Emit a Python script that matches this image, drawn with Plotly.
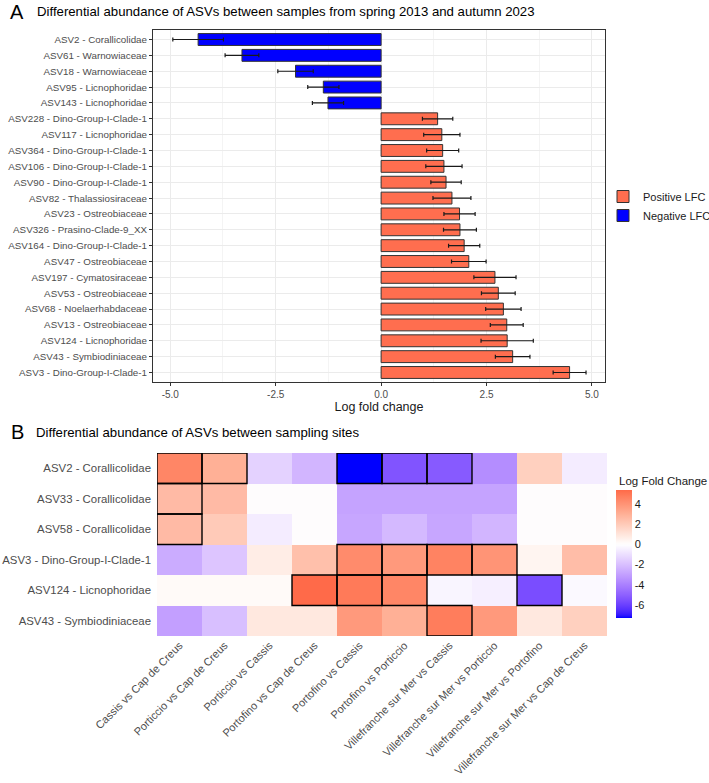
import plotly.graph_objects as go

# ---------------- Panel A data ----------------
asv_labels = [
    "ASV2 - Corallicolidae", "ASV61 - Warnowiaceae", "ASV18 - Warnowiaceae",
    "ASV95 - Licnophoridae", "ASV143 - Licnophoridae", "ASV228 - Dino-Group-I-Clade-1",
    "ASV117 - Licnophoridae", "ASV364 - Dino-Group-I-Clade-1", "ASV106 - Dino-Group-I-Clade-1",
    "ASV90 - Dino-Group-I-Clade-1", "ASV82 - Thalassiosiraceae", "ASV23 - Ostreobiaceae",
    "ASV326 - Prasino-Clade-9_XX", "ASV164 - Dino-Group-I-Clade-1", "ASV47 - Ostreobiaceae",
    "ASV197 - Cymatosiraceae", "ASV53 - Ostreobiaceae", "ASV68 - Noelaerhabdaceae",
    "ASV13 - Ostreobiaceae", "ASV124 - Licnophoridae", "ASV43 - Symbiodiniaceae",
    "ASV3 - Dino-Group-I-Clade-1",
]
lfc = [-4.34, -3.30, -2.03, -1.37, -1.26, 1.34, 1.44, 1.46, 1.49, 1.54, 1.68,
       1.86, 1.87, 1.97, 2.08, 2.70, 2.78, 2.90, 2.98, 2.99, 3.12, 4.47]
lfc_se = [0.60, 0.40, 0.42, 0.37, 0.37, 0.36, 0.43, 0.38, 0.43, 0.36, 0.45,
          0.37, 0.39, 0.37, 0.41, 0.50, 0.40, 0.42, 0.39, 0.62, 0.41, 0.39]
x_ticks = [-5.0, -2.5, 0.0, 2.5, 5.0]
x_ticktext = ["-5.0", "-2.5", "0.0", "2.5", "5.0"]

# ---------------- Panel B data ----------------
site_pairs = [
    "Cassis vs Cap de Creus", "Porticcio vs Cap de Creus", "Porticcio vs Cassis",
    "Portofino vs Cap de Creus", "Portofino vs Cassis", "Portofino vs Porticcio",
    "Villefranche sur Mer vs Cassis", "Villefranche sur Mer vs Porticcio",
    "Villefranche sur Mer vs Portofino", "Villefranche sur Mer vs Cap de Creus",
]
heat_rows = ["ASV2 - Corallicolidae", "ASV33 - Corallicolidae", "ASV58 - Corallicolidae",
             "ASV3 - Dino-Group-I-Clade-1", "ASV124 - Licnophoridae", "ASV43 - Symbiodiniaceae"]
lfc_asv2 = [4.5, 3.0, -1.4, -2.3, -7.3, -5.4, -5.2, -3.6, 1.8, -0.6]
lfc_asv33 = [2.6, 2.6, 0.0, 0.0, -2.9, -2.9, -2.9, -2.9, 0.0, 0.0]
lfc_asv58 = [2.6, 2.0, -0.6, 0.0, -2.8, -2.2, -2.8, -2.3, 0.0, 0.0]
lfc_asv3 = [-2.6, -1.8, 0.7, 2.4, 4.3, 3.8, 4.6, 4.0, 0.4, 2.5]
lfc_asv124 = [0.2, 0.2, 0.2, 5.4, 4.9, 4.5, -0.3, -0.5, -5.6, -0.2]
lfc_asv43 = [-3.0, -2.0, 0.9, 0.9, 3.8, 3.0, 4.8, 3.8, 0.9, 1.8]
sig_asv2 = [1, 1, 0, 0, 1, 1, 1, 0, 0, 0]
sig_asv33 = [1, 0, 0, 0, 0, 0, 0, 0, 0, 0]
sig_asv58 = [1, 0, 0, 0, 0, 0, 0, 0, 0, 0]
sig_asv3 = [0, 0, 0, 0, 1, 1, 1, 1, 0, 0]
sig_asv124 = [0, 0, 0, 1, 1, 1, 0, 0, 1, 0]
sig_asv43 = [0, 0, 0, 0, 0, 0, 1, 0, 0, 0]
cbar_ticks = [-6, -4, -2, 0, 2, 4]
cbar_ticktext = ["-6", "-4", "-2", "0", "2", "4"]

z = [lfc_asv2, lfc_asv33, lfc_asv58, lfc_asv3, lfc_asv124, lfc_asv43]
sig = [sig_asv2, sig_asv33, sig_asv58, sig_asv3, sig_asv124, sig_asv43]

# ---------------- colour helpers (Lab interpolation like ggplot) ----------------
def hex_to_rgb(h):
    h = h.lstrip("#")
    return [int(h[i:i + 2], 16) / 255 for i in (0, 2, 4)]

def _lin(c):
    return c / 12.92 if c <= 0.04045 else ((c + 0.055) / 1.055) ** 2.4

def _gam(c):
    c = max(0.0, min(1.0, c))
    return 12.92 * c if c <= 0.0031308 else 1.055 * c ** (1 / 2.4) - 0.055

WX, WY, WZ = 0.95047, 1.0, 1.08883

def rgb_to_lab(rgb):
    r, g, b = [_lin(c) for c in rgb]
    X = 0.4124 * r + 0.3576 * g + 0.1805 * b
    Y = 0.2126 * r + 0.7152 * g + 0.0722 * b
    Z = 0.0193 * r + 0.1192 * g + 0.9505 * b
    def f(t):
        return t ** (1 / 3) if t > 0.008856 else 7.787 * t + 16 / 116
    fx, fy, fz = f(X / WX), f(Y / WY), f(Z / WZ)
    return [116 * fy - 16, 500 * (fx - fy), 200 * (fy - fz)]

def lab_to_hex(lab):
    L, a, bb = lab
    fy = (L + 16) / 116
    fx = fy + a / 500
    fz = fy - bb / 200
    def finv(t):
        return t ** 3 if t ** 3 > 0.008856 else (t - 16 / 116) / 7.787
    X, Y, Z = WX * finv(fx), WY * finv(fy), WZ * finv(fz)
    r = 3.2406 * X - 1.5372 * Y - 0.4986 * Z
    g = -0.9689 * X + 1.8758 * Y + 0.0415 * Z
    b = 0.0557 * X - 0.2040 * Y + 1.0570 * Z
    return "#%02x%02x%02x" % tuple(int(round(_gam(c) * 255)) for c in (r, g, b))

LOW, MID, HIGH = rgb_to_lab(hex_to_rgb("#0000FF")), rgb_to_lab(hex_to_rgb("#FFFFFF")), rgb_to_lab(hex_to_rgb("#FF0000"))

def grad2(p):
    if p <= 0.5:
        t = p / 0.5
        lab = [LOW[i] + (MID[i] - LOW[i]) * t for i in range(3)]
    else:
        t = (p - 0.5) / 0.5
        lab = [MID[i] + (HIGH[i] - MID[i]) * t for i in range(3)]
    return lab_to_hex(lab)

zmin = min(min(r) for r in z)
zmax = max(max(r) for r in z)
M = max(abs(zmin), abs(zmax))
N = 60
colorscale = []
for k in range(N + 1):
    v = zmin + (zmax - zmin) * k / N
    colorscale.append([k / N, grad2(0.5 + v / (2 * M))])

# ---------------- figure ----------------
W, H = 709, 783
FONT = "Liberation Sans, Arial, sans-serif"
POS_COL = "#FF6E4F"
NEG_COL = "#0000FF"

def px_x(p):
    return p / W

def px_y(p):
    return 1 - p / H

fig = go.Figure()

pos_idx = [i for i, v in enumerate(lfc) if v > 0]
neg_idx = [i for i, v in enumerate(lfc) if v <= 0]

for name, idx, col in [("Positive LFC", pos_idx, POS_COL), ("Negative LFC", neg_idx, NEG_COL)]:
    fig.add_trace(go.Bar(
        x=[lfc[i] for i in idx], y=[asv_labels[i] for i in idx], orientation="h",
        name=name, width=0.75,
        marker=dict(color=col, line=dict(color="#333333", width=1)),
        error_x=dict(type="data", array=[lfc_se[i] for i in idx], color="#1a1a1a",
                     thickness=1.2, width=2),
        xaxis="x", yaxis="y",
    ))

fig.add_trace(go.Heatmap(
    z=z, x=site_pairs, y=heat_rows, xaxis="x2", yaxis="y2",
    colorscale=colorscale, zmin=zmin, zmax=zmax, showscale=True,
    xgap=0, ygap=0,
    colorbar=dict(
        x=px_x(616), xanchor="left", xpad=0, thickness=16,
        lenmode="pixels", len=128, y=px_y(554), yanchor="middle", ypad=0,
        outlinewidth=0, ticks="", tickvals=cbar_ticks, ticktext=cbar_ticktext,
        tickfont=dict(family=FONT, size=11, color="#1a1a1a"),
    ),
    showlegend=False,
))

# significance outlines (computed from the data grid)
for i, row in enumerate(sig):
    for j, s in enumerate(row):
        if s:
            fig.add_shape(type="rect", xref="x2", yref="y2",
                          x0=j - 0.5, x1=j + 0.5, y0=i - 0.5, y1=i + 0.5,
                          line=dict(color="black", width=1.4), fillcolor="rgba(0,0,0,0)",
                          layer="above")

fig.update_layout(
    width=W, height=H, margin=dict(l=0, r=0, t=0, b=0, autoexpand=False),
    paper_bgcolor="white", plot_bgcolor="white",
    font=dict(family=FONT, color="#1a1a1a"),
    barmode="overlay",
    showlegend=True,
    legend=dict(x=px_x(603), xanchor="left", y=px_y(206), yanchor="middle",
                font=dict(family=FONT, size=11, color="#1a1a1a"),
                bgcolor="rgba(0,0,0,0)", traceorder="normal", itemwidth=30),
    xaxis=dict(
        domain=[px_x(153), px_x(605)], anchor="y", range=[-5.41, 5.31], automargin=False,
        tickvals=x_ticks, ticktext=x_ticktext, ticks="outside", ticklen=3,
        tickcolor="#333333", tickfont=dict(size=10, color="#4D4D4D"),
        showgrid=True, gridcolor="#EBEBEB", gridwidth=1,
        minor=dict(tickvals=[-3.75, -1.25, 1.25, 3.75], showgrid=True,
                   gridcolor="#F4F4F4", gridwidth=0.6, ticks=""),
        showline=True, mirror=True, linecolor="#333333", linewidth=1, zeroline=False,
        title=dict(text="Log fold change", font=dict(size=12.5, color="#1a1a1a"), standoff=3),
    ),
    yaxis=dict(
        domain=[px_y(382), px_y(30)], anchor="x", type="category", automargin=False,
        categoryorder="array", categoryarray=asv_labels, range=[21.6, -0.6],
        ticks="outside", ticklen=3, tickcolor="#333333",
        tickfont=dict(size=9.8, color="#4D4D4D"),
        showgrid=True, gridcolor="#EBEBEB", gridwidth=1,
        showline=True, mirror=True, linecolor="#333333", linewidth=1, zeroline=False,
    ),
    xaxis2=dict(
        domain=[px_x(157), px_x(607)], anchor="y2", type="category", automargin=False,
        categoryorder="array", categoryarray=site_pairs, range=[-0.5, 9.5],
        tickangle=-45, ticks="", tickfont=dict(size=11, color="#4D4D4D"),
        showgrid=False, zeroline=False, showline=False,
    ),
    yaxis2=dict(
        domain=[px_y(636), px_y(453)], anchor="x2", type="category", automargin=False,
        categoryorder="array", categoryarray=heat_rows, range=[5.5, -0.5],
        ticks="", tickfont=dict(size=11.4, color="#4D4D4D"), ticklabelstandoff=5,
        showgrid=False, zeroline=False, showline=False,
    ),
    annotations=[
        dict(text="A", x=px_x(17), y=px_y(11.5), xref="paper", yref="paper",
             xanchor="center", yanchor="middle", showarrow=False,
             font=dict(size=20, color="#000000")),
        dict(text="Differential abundance of ASVs between samples from spring 2013 and autumn 2023",
             x=px_x(35), y=px_y(11.5), xref="paper", yref="paper",
             xanchor="left", yanchor="middle", showarrow=False,
             font=dict(size=13.2, color="#000000")),
        dict(text="B", x=px_x(17), y=px_y(432), xref="paper", yref="paper",
             xanchor="center", yanchor="middle", showarrow=False,
             font=dict(size=20, color="#000000")),
        dict(text="Differential abundance of ASVs between sampling sites",
             x=px_x(34), y=px_y(432), xref="paper", yref="paper",
             xanchor="left", yanchor="middle", showarrow=False,
             font=dict(size=13.2, color="#000000")),
        dict(text="Log Fold Change", x=px_x(617), y=px_y(481), xref="paper", yref="paper",
             xanchor="left", yanchor="middle", showarrow=False,
             font=dict(size=11.5, color="#1a1a1a")),
    ],
)

fig.write_html("out.html")
